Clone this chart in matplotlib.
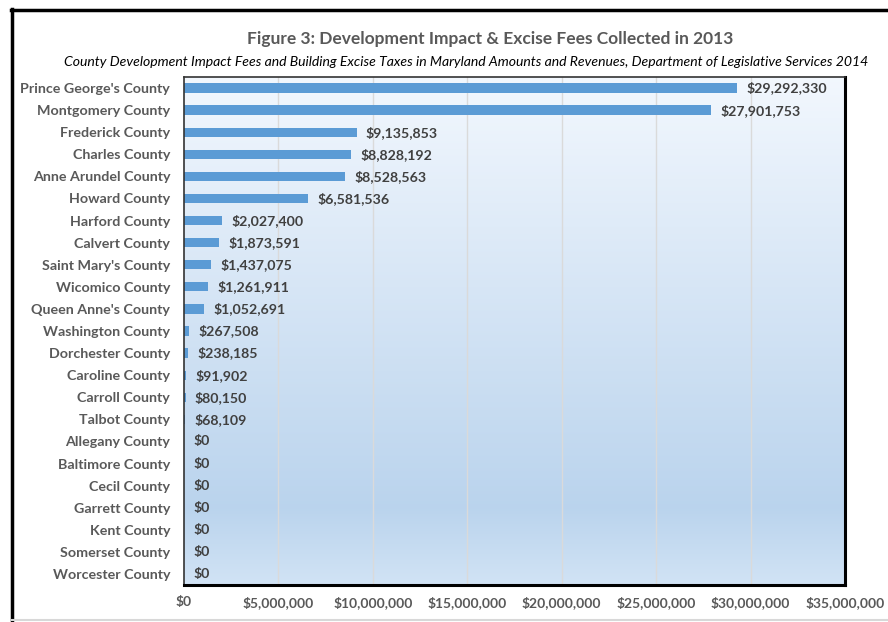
import numpy as np
import matplotlib.pyplot as plt
from matplotlib.ticker import FuncFormatter
from matplotlib.lines import Line2D

# Data (Maryland, 2013)
counties = ["Prince George's County", "Montgomery County", "Frederick County",
            "Charles County", "Anne Arundel County", "Howard County",
            "Harford County", "Calvert County", "Saint Mary's County",
            "Wicomico County", "Queen Anne's County", "Washington County",
            "Dorchester County", "Caroline County", "Carroll County",
            "Talbot County", "Allegany County", "Baltimore County",
            "Cecil County", "Garrett County", "Kent County",
            "Somerset County", "Worcester County"]
fees = [29292330, 27901753, 9135853, 8828192, 8528563, 6581536,
        2027400, 1873591, 1437075, 1261911, 1052691, 267508,
        238185, 91902, 80150, 68109, 0, 0, 0, 0, 0, 0, 0]
xticks = [0, 5e6, 10e6, 15e6, 20e6, 25e6, 30e6, 35e6]

font = "Lato"
gray = "#595959"

fig = plt.figure(figsize=(8.88, 6.22), dpi=100)
ax = fig.add_axes([0.2072, 0.0595, 0.7444, 0.8167])

n = len(counties)
y = np.arange(n)

# gradient background, light at top, deeper blue lower down
top = np.array([0.95, 0.97, 0.995])
mid = np.array([0.73, 0.83, 0.93])
bot = np.array([0.82, 0.89, 0.96])
rows = []
for t in np.linspace(0, 1, 200):
    if t < 0.85:
        c = top + (mid - top) * (t / 0.85)
    else:
        c = mid + (bot - mid) * ((t - 0.85) / 0.15)
    rows.append(c)
img = np.array(rows)[:, None, :]
ax.imshow(img, aspect="auto", extent=[0, 35e6, n - 0.5, -0.5], zorder=0)

for xv in xticks[1:-1]:
    ax.axvline(xv, color="#dadada", lw=1.0, zorder=1)

ax.barh(y, fees, height=0.42, color="#5b9bd5", zorder=2)
for yi, v in zip(y, fees):
    ax.text(v + 0.5e6, yi, "${:,.0f}".format(v), va="center", ha="left",
            fontsize=10.2, fontweight="bold", color="#404040", family=font, zorder=3)

ax.set_xlim(0, 35e6)
ax.set_ylim(n - 0.5, -0.5)
ax.set_yticks(y)
ax.set_yticklabels(counties, fontsize=10.3, fontweight="bold", color=gray, family=font)
ax.set_xticks(xticks)
ax.xaxis.set_major_formatter(FuncFormatter(lambda v, p: "${:,.0f}".format(v)))
for lbl in ax.get_xticklabels():
    lbl.set_fontsize(10)
    lbl.set_fontweight("bold")
    lbl.set_color(gray)
    lbl.set_family(font)
ax.tick_params(length=0, pad=8)
ax.tick_params(axis="y", pad=10)

for side in ["right", "bottom"]:
    ax.spines[side].set_linewidth(2.2)
    ax.spines[side].set_color("black")
for side in ["left", "top"]:
    ax.spines[side].set_linewidth(1.2)
    ax.spines[side].set_color("#333333")

fig.text(0.552, 0.937, "Figure 3: Development Impact & Excise Fees Collected in 2013",
         ha="center", va="center", fontsize=12.5, fontweight="bold", color=gray, family=font)
fig.text(0.525, 0.900, "County Development Impact Fees and Building Excise Taxes in Maryland Amounts and Revenues, Department of Legislative Services 2014",
         ha="center", va="center", fontsize=10.1, style="italic", color="black", family=font)

# outer frame
fig.add_artist(Line2D([0.012, 1.0], [0.984, 0.984], color="black", lw=2.5, transform=fig.transFigure))
fig.add_artist(Line2D([0.013, 0.013], [0.0, 0.985], color="black", lw=2.5, transform=fig.transFigure))
fig.add_artist(Line2D([0.013, 1.0], [0.004, 0.004], color="#d8d8d8", lw=1.5, transform=fig.transFigure))

fig.savefig("out.png", dpi=100)
